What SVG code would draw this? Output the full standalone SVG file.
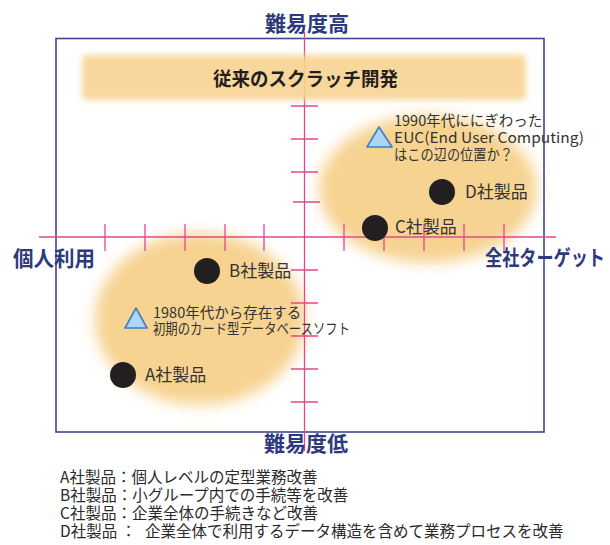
<svg xmlns="http://www.w3.org/2000/svg" width="610" height="545" viewBox="0 0 610 545">
<defs>
<filter id="blur" x="-30%" y="-30%" width="160%" height="160%"><feGaussianBlur stdDeviation="7"/></filter>
<filter id="blurS" x="-10%" y="-40%" width="120%" height="180%"><feGaussianBlur stdDeviation="3"/></filter>
<style>
text{font-family:'Noto Sans CJK JP','Noto Sans',sans-serif}
.ax{font-size:21px;font-weight:bold;fill:#2e3a7e}
.lbl{font-size:17px;fill:#333}
.note{font-size:14.5px;fill:#333}
.leg{font-size:15.5px;fill:#2a2a2a}
.pink{stroke:#e8458f;stroke-width:1.3;fill:none}
.dot{fill:#231f20}
.tri{fill:#acd6f2;stroke:#3f7fc4;stroke-width:1.6;stroke-linejoin:round}
</style>
</defs>
<rect width="610" height="545" fill="#fff"/>
<g id="blobs" fill="#f7d391">
<ellipse cx="428" cy="189" rx="109" ry="74" filter="url(#blur)"/>
<ellipse cx="200" cy="319" rx="105" ry="86" filter="url(#blur)"/>
</g>
<rect id="frame" x="56" y="38.5" width="488" height="393.5" fill="none" stroke="#3e4890" stroke-width="1.6"/>
<g id="axes" class="pink">
<path d="M304.5 32V451M39 237H556"/>
<path d="M291 106H318M291 139H318M291 172H318M293 202H320M291 270H318M291 303H318M291 336H318M291 369H318M291 402H318"/>
<path d="M105 224V251M145 224V251M185 224V251M225 224V251M264 224V251M344 224V251M384 224V251M424 224V251M464 224V251M504 224V251"/>
</g>
<g id="banner">
<rect x="82" y="55" width="444" height="45" rx="4" fill="#f7d391" fill-opacity="0.9" filter="url(#blurS)"/>
<text x="305.5" y="86" text-anchor="middle" font-size="19" font-weight="bold" fill="#231f20" textLength="185" lengthAdjust="spacingAndGlyphs">従来のスクラッチ開発</text>
</g>
<g id="axis-labels" class="ax">
<text x="307" y="31" text-anchor="middle">難易度高</text>
<text x="306" y="451" text-anchor="middle">難易度低</text>
<text x="13" y="266" textLength="82" lengthAdjust="spacingAndGlyphs">個人利用</text>
<text x="485" y="265" textLength="120" lengthAdjust="spacingAndGlyphs">全社ターゲット</text>
</g>
<g id="productA"><circle class="dot" cx="123" cy="375" r="13"/><text class="lbl" x="145" y="381">A社製品</text></g>
<g id="productB"><circle class="dot" cx="207" cy="271" r="13"/><text class="lbl" x="229" y="277">B社製品</text></g>
<g id="productC"><circle class="dot" cx="375" cy="228" r="13"/><text class="lbl" x="395" y="233">C社製品</text></g>
<g id="productD"><circle class="dot" cx="442" cy="192" r="13"/><text class="lbl" x="465" y="198">D社製品</text></g>
<g id="card1980">
<polygon class="tri" points="136,308 125,328 147,328"/>
<text class="note" x="153" y="318">1980年代から存在する</text>
<text class="note" x="153" y="334" textLength="197" lengthAdjust="spacingAndGlyphs">初期のカード型データベースソフト</text>
</g>
<g id="euc1990">
<polygon class="tri" points="379,127 367,147 392,147"/>
<text class="note" x="394" y="125.5">1990年代ににぎわった</text>
<text class="note" x="394" y="143" textLength="190" lengthAdjust="spacingAndGlyphs">EUC(End User Computing)</text>
<text class="note" x="394" y="159.5" textLength="119" lengthAdjust="spacingAndGlyphs">はこの辺の位置か？</text>
</g>
<g id="legend" class="leg">
<text x="60" y="483">A社製品：個人レベルの定型業務改善</text>
<text x="60" y="501">B社製品：小グループ内での手続等を改善</text>
<text x="60" y="519">C社製品：企業全体の手続きなど改善</text>
<text x="60" y="537">D社製品 ：<tspan x="145">企業全体で利用するデータ構造を含めて業務プロセスを改善</tspan></text>
</g>
</svg>
